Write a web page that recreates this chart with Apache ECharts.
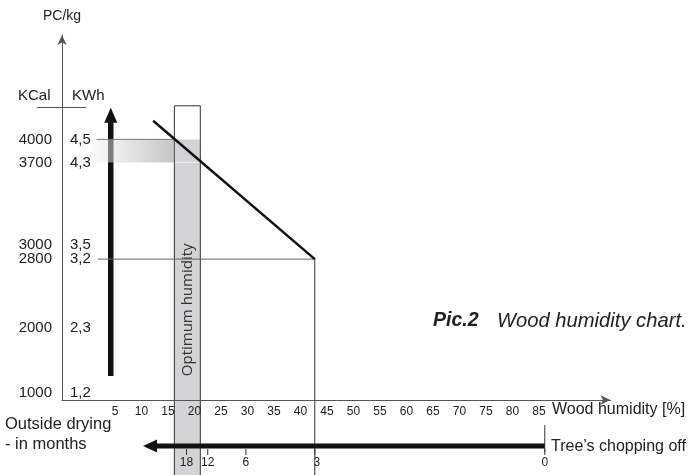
<!DOCTYPE html>
<html>
<head>
<meta charset="utf-8">
<script src="https://cdn.jsdelivr.net/npm/echarts@6/dist/echarts.min.js"></script>
<style>html,body{margin:0;padding:0;background:#fff;}#main{width:692px;height:475px;}</style>
</head>
<body>
<div id="main"></div>
<script>
// ---- data ----
const humidityTicks = [5, 10, 15, 20, 25, 30, 35, 40, 45, 50, 55, 60, 65, 70, 75, 80, 85];
const kcalLabels = ['1000', '2000', '2800', '3000', '3700', '4000'];
const kwhLabels = ['1,2', '2,3', '3,2', '3,5', '4,3', '4,5'];
// schematic position of each energy reference on the PC/kg axis (0-100 scale)
const energyLevels = [1.9, 19.8, 38.6, 42.6, 65.1, 71.4];
// calorific value line: [wood humidity %, PC level]
const calorificLine = [[12.2, 76.5], [42.7, 38.6]];
// optimum humidity zone [from %, to %] and its top level
const optimumBand = [16.2, 21.1];
const optimumTop = 80.6;
// outside drying in months, placed on the humidity axis
const monthLabels = ['18', '12', '6', '3', '0'];
const monthHumidity = [18.5, 22.5, 29.7, 42.7, 86.1];
const dryingArrowEnd = 10.3;   // humidity % where the drying arrow points
const energyArrow = [4.2, 6.6, 80.1]; // humidity %, from level, to level

const FONT = '"Liberation Sans", Arial, sans-serif';
const TXT = '#222';

const chart = echarts.init(document.getElementById('main'), null, {renderer: 'canvas'});

const option = {
  backgroundColor: '#fff',
  animation: false,
  grid: {left: 62, right: 81.5, top: 35, bottom: 75},
  xAxis: {
    type: 'value', min: -5, max: 98.5, z: 10,
    axisLine: {onZero: false, lineStyle: {color: '#555', width: 1}, symbol: ['none', 'arrow'], symbolSize: [7, 10]},
    axisTick: {show: false},
    splitLine: {show: false},
    axisLabel: {customValues: humidityTicks, margin: 6, fontSize: 12, color: TXT, fontFamily: FONT}
  },
  yAxis: [{
    type: 'value', min: 0, max: 100, z: 10,
    name: 'PC/kg', nameLocation: 'end', nameGap: 12,
    nameTextStyle: {fontSize: 14, color: TXT, fontFamily: FONT},
    axisLine: {show: true, onZero: false, lineStyle: {color: '#555', width: 1}, symbol: ['none', 'arrow'], symbolSize: [7, 10]},
    axisTick: {show: false},
    splitLine: {show: false},
    axisLabel: {customValues: energyLevels, margin: 10, fontSize: 15, color: TXT, fontFamily: FONT,
      formatter: v => kcalLabels[energyLevels.indexOf(v)] || ''}
  }, {
    type: 'value', min: 0, max: 100, position: 'left', z: 10,
    axisLine: {show: false, onZero: false}, axisTick: {show: false}, splitLine: {show: false},
    axisLabel: {inside: true, customValues: energyLevels, margin: 8, fontSize: 15, color: TXT, fontFamily: FONT,
      formatter: v => kwhLabels[energyLevels.indexOf(v)] || ''}
  }],
  series: [
    // optimum humidity band
    {
      type: 'custom', z: 1, data: [optimumBand],
      renderItem: (params, api) => {
        const tl = api.coord([optimumBand[0], optimumTop]);
        const br = api.coord([optimumBand[1], 0]);
        const yBottom = br[1] + 76;
        const y4000 = api.coord([0, energyLevels[5]])[1];
        const y3700 = api.coord([0, energyLevels[4]])[1];
        const w = br[0] - tl[0];
        return {type: 'group', children: [
          {type: 'rect', shape: {x: tl[0], y: y4000, width: w, height: yBottom - y4000}, style: {fill: '#d3d3d5'}},
          {type: 'line', shape: {x1: tl[0], y1: y3700, x2: br[0], y2: y3700}, style: {stroke: '#eeeeee', lineWidth: 1}},
          {type: 'rect', shape: {x: tl[0], y: tl[1], width: w, height: yBottom - tl[1]}, style: {fill: null, stroke: '#333', lineWidth: 1}},
          {type: 'text', x: tl[0] + w / 2, y: api.coord([0, 24.7])[1], rotation: Math.PI / 2,
            style: {text: 'Optimum humidity', font: '15px "Open Sans", "Noto Sans", sans-serif', fill: '#333', align: 'center', verticalAlign: 'middle'}}
        ]};
      }
    },
    // big energy arrow
    {
      type: 'custom', z: 2, data: [energyArrow],
      renderItem: (params, api) => {
        const b = api.coord([energyArrow[0], energyArrow[1]]);
        const t = api.coord([energyArrow[0], energyArrow[2]]);
        return {type: 'group', children: [
          {type: 'line', shape: {x1: b[0], y1: b[1], x2: t[0], y2: t[1] + 12}, style: {stroke: '#111', lineWidth: 5.5}},
          {type: 'polygon', shape: {points: [[t[0], t[1]], [t[0] - 6.5, t[1] + 15], [t[0] + 6.5, t[1] + 15]]}, style: {fill: '#111'}}
        ]};
      }
    },
    // gradient band between 4000 and 3700
    {
      type: 'custom', z: 3, data: [0],
      renderItem: (params, api) => {
        const p1 = api.coord([0.2, energyLevels[5]]);
        const p2 = api.coord([optimumBand[0], energyLevels[4]]);
        const lineStart = api.coord([1.5, energyLevels[5]]);
        return {type: 'group', children: [
          {type: 'rect', shape: {x: p1[0], y: p1[1], width: p2[0] - p1[0], height: p2[1] - p1[1]},
            style: {fill: {type: 'linear', x: 0, y: 0, x2: 1, y2: 0, colorStops: [
              {offset: 0, color: 'rgba(250,250,250,0.5)'}, {offset: 1, color: 'rgba(150,150,150,0.55)'}]}}},
          {type: 'line', shape: {x1: lineStart[0], y1: p1[1], x2: p2[0], y2: p1[1]}, style: {stroke: '#777', lineWidth: 1}}
        ]};
      }
    },
    // 2800 reference line and 3-month vertical
    {
      type: 'custom', z: 4, data: [0],
      renderItem: (params, api) => {
        const a = api.coord([1.8, energyLevels[2]]);
        const b = api.coord([calorificLine[1][0], energyLevels[2]]);
        const bottom = api.coord([0, 0])[1] + 76;
        return {type: 'group', children: [
          {type: 'line', shape: {x1: a[0], y1: a[1], x2: b[0], y2: b[1]}, style: {stroke: '#666', lineWidth: 1}},
          {type: 'line', shape: {x1: b[0], y1: b[1], x2: b[0], y2: bottom}, style: {stroke: '#333', lineWidth: 1}}
        ]};
      }
    },
    // calorific value line
    {
      type: 'custom', z: 5, data: [0],
      renderItem: (params, api) => {
        const a = api.coord(calorificLine[0]);
        const b = api.coord(calorificLine[1]);
        return {type: 'line', shape: {x1: a[0], y1: a[1], x2: b[0], y2: b[1]}, style: {stroke: '#111', lineWidth: 2.5}};
      }
    },
    // outside drying months arrow
    {
      type: 'custom', z: 5, data: [0],
      renderItem: (params, api) => {
        const y0 = api.coord([0, 0])[1];
        const y = y0 + 46;
        const tip = api.coord([dryingArrowEnd, 0])[0];
        const end = api.coord([monthHumidity[4], 0])[0];
        const children = [
          {type: 'line', shape: {x1: tip + 12, y1: y, x2: end, y2: y}, style: {stroke: '#111', lineWidth: 5}},
          {type: 'polygon', shape: {points: [[tip, y], [tip + 14, y - 6.5], [tip + 14, y + 6.5]]}, style: {fill: '#111'}},
          {type: 'line', shape: {x1: end, y1: y0 + 25, x2: end, y2: y0 + 52}, style: {stroke: '#333', lineWidth: 1}}
        ];
        monthHumidity.forEach((h, i) => {
          const x = api.coord([h, 0])[0];
          children.push({type: 'line', shape: {x1: x, y1: y + 3, x2: x, y2: y + 9}, style: {stroke: '#333', lineWidth: 1}});
          children.push({type: 'text', x: x + (i === 3 ? 2 : 0), y: y0 + 63,
            style: {text: monthLabels[i], font: '12px ' + FONT, fill: TXT, align: 'center', verticalAlign: 'middle'}});
        });
        return {type: 'group', children};
      }
    }
  ],
  graphic: [
    {type: 'text', left: 18, top: 88, style: {text: 'KCal', font: '15px ' + FONT, fill: TXT}},
    {type: 'text', left: 72, top: 88, style: {text: 'KWh', font: '15px ' + FONT, fill: TXT}},
    {type: 'line', shape: {x1: 37, y1: 107.5, x2: 86, y2: 107.5}, style: {stroke: '#555', lineWidth: 1}},
    {type: 'text', left: 5, top: 416, style: {text: 'Outside drying', font: '16.5px ' + FONT, fill: TXT}},
    {type: 'text', left: 5, top: 436, style: {text: '- in months', font: '16.5px ' + FONT, fill: TXT}},
    {type: 'text', left: 552, top: 402, style: {text: 'Wood humidity [%]', font: '16px ' + FONT, fill: TXT}},
    {type: 'text', left: 551, top: 439, style: {text: 'Tree\u2019s chopping off', font: '16px ' + FONT, fill: TXT}},
    {type: 'text', left: 433, top: 311, style: {text: 'Pic.2', font: 'italic bold 19.5px ' + FONT, fill: TXT}},
    {type: 'text', left: 497, top: 311, style: {text: 'Wood humidity chart.', font: 'italic 20.2px ' + FONT, fill: TXT}}
  ]
};
chart.setOption(option);
</script>
</body>
</html>
